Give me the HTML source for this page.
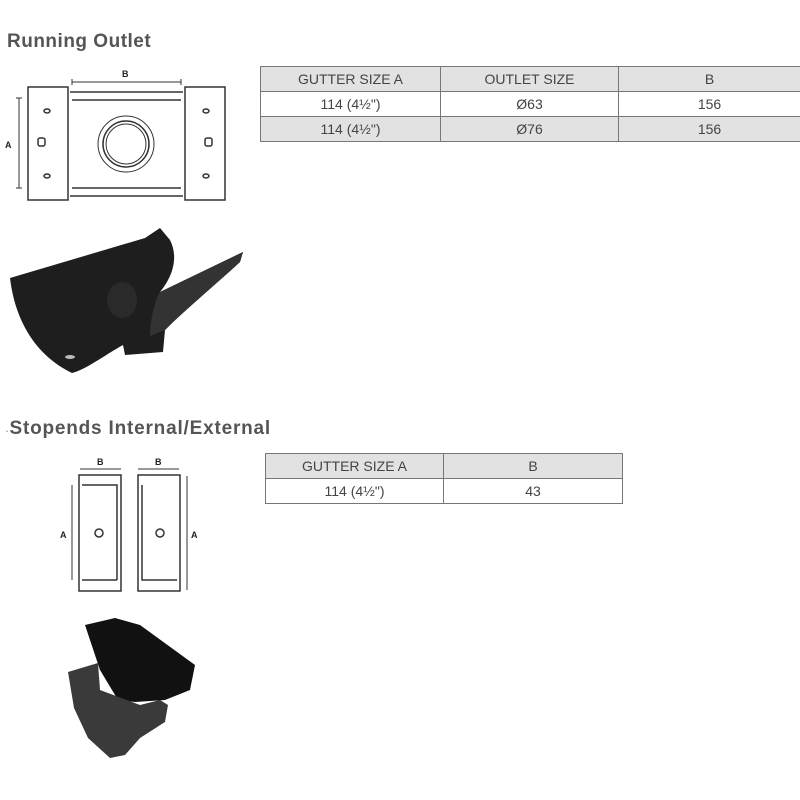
<!DOCTYPE html>
<html><head><style>
body{margin:0;width:800px;height:800px;background:#fff;position:relative;font-family:"Liberation Sans",sans-serif;overflow:hidden}
.h{position:absolute;font-weight:bold;color:#555;font-size:19px}
table{position:absolute;border-collapse:collapse;font-size:14px;color:#444}
td{border:1px solid #777;text-align:center;height:24px;padding:0}
tr.g td{background:#e2e2e2}
</style></head><body>
<div class="h" style="left:7px;top:31px;letter-spacing:0.5px">Running Outlet</div>
<div class="h" style="left:6px;top:418px;letter-spacing:0.8px"><span style="font-size:8px;color:#888">·</span>Stopends Internal/External</div>

<table style="left:260px;top:66px;width:541px">
<tr class="g"><td style="width:179px">GUTTER SIZE A</td><td style="width:177px">OUTLET SIZE</td><td>B</td></tr>
<tr><td>114 (4½")</td><td>Ø63</td><td>156</td></tr>
<tr class="g"><td>114 (4½")</td><td>Ø76</td><td>156</td></tr>
</table>
<table style="left:265px;top:453px;width:358px">
<tr class="g"><td style="width:177px">GUTTER SIZE A</td><td>B</td></tr>
<tr><td>114 (4½")</td><td>43</td></tr>
</table>

<svg style="position:absolute;left:0;top:0" width="800" height="800">
<g fill="none" stroke="#333" stroke-width="1.5">
<rect x="28" y="87" width="40" height="113"/>
<rect x="185" y="87" width="40" height="113"/>
<path d="M70 92 L183 92 M70 196 L183 196 M72 100 L181 100 M72 188 L181 188"/>
<circle cx="126" cy="144" r="28" stroke-width="1"/>
<circle cx="126" cy="144" r="23"/>
<circle cx="126" cy="144" r="20" stroke-width="1"/>
<rect x="38" y="138" width="7" height="8" rx="2"/>
<rect x="205" y="138" width="7" height="8" rx="2"/>
<ellipse cx="47" cy="111" rx="3" ry="2"/><ellipse cx="47" cy="176" rx="3" ry="2"/>
<ellipse cx="206" cy="111" rx="3" ry="2"/><ellipse cx="206" cy="176" rx="3" ry="2"/>
<path d="M19 98 V188 M16 98 H22 M16 188 H22 M72 82 H181 M72 79 V85 M181 79 V85" stroke-width="1"/>
<rect x="79" y="475" width="42" height="116"/>
<path d="M82 485 H117 V580 M82 580 H117"/>
<rect x="138" y="475" width="42" height="116"/>
<path d="M142 485 V580 H177"/>
<circle cx="99" cy="533" r="4"/><circle cx="160" cy="533" r="4"/>
<path d="M72 485 V580 M80 469 H121 M138 469 H179 M187 476 V590" stroke-width="1"/>
</g>
<g font-family="Liberation Sans" font-weight="bold" font-size="9" fill="#222">
<text x="122" y="77">B</text><text x="5" y="148">A</text>
<text x="97" y="465">B</text><text x="155" y="465">B</text>
<text x="60" y="538">A</text><text x="191" y="538">A</text>
</g>
<!-- gutter photo -->
<path d="M10 278 L145 238 L160 228 L170 240 C180 260 170 280 160 292 L243 252 L240 262 C215 285 185 310 165 330 L163 352 L125 355 L123 345 C105 355 85 370 72 373 C35 355 15 320 10 278Z" fill="#1e1e1e"/>
<path d="M160 292 L243 252 L240 262 C215 285 185 310 165 330 L150 336 C150 320 155 300 160 292Z" fill="#333"/>
<ellipse cx="122" cy="300" rx="15" ry="18" fill="#2a2a2a"/>
<ellipse cx="70" cy="357" rx="5" ry="2" fill="#bbb"/>
<!-- stopend photo -->
<path d="M85 625 L115 618 L140 625 L195 665 L190 690 L165 700 L135 702 L118 700 L100 670 Z" fill="#111"/>
<path d="M68 672 L98 663 L100 690 L140 705 L160 700 L168 705 L165 722 L140 738 L125 755 L110 758 L88 738 L74 708 Z" fill="#3a3a3a"/>
</svg>
</body></html>
